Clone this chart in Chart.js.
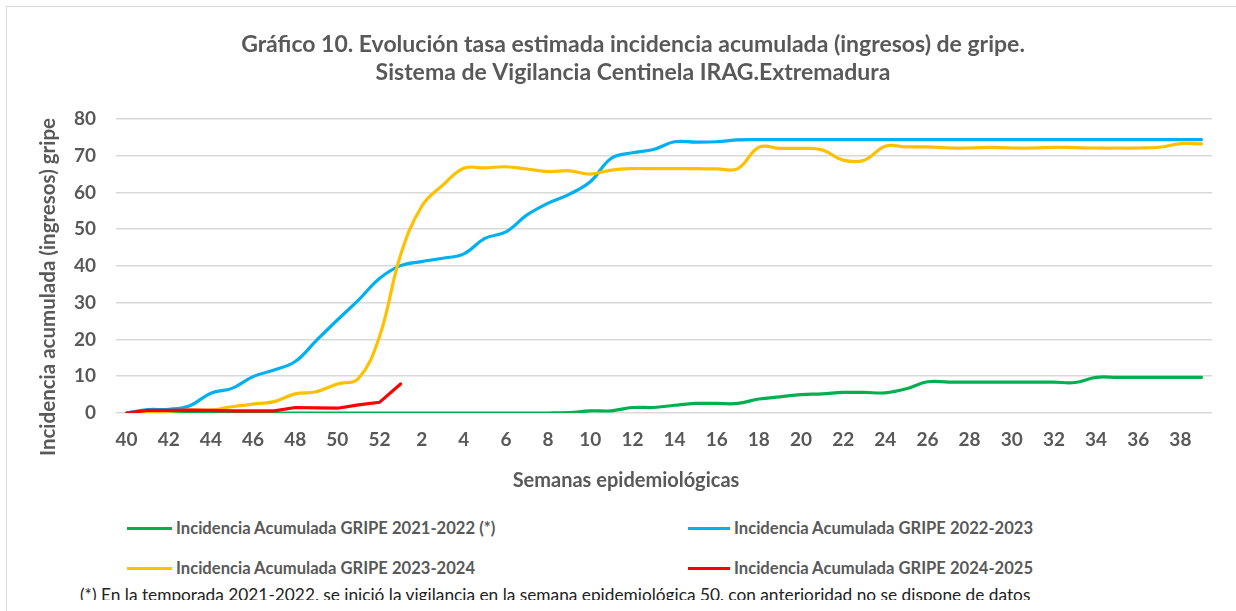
<!DOCTYPE html>
<html>
<head>
<meta charset="utf-8">
<script src="https://cdn.jsdelivr.net/npm/chart.js@4/dist/chart.umd.min.js"></script>
<style>
  html, body { margin:0; padding:0; background:#fff; }
  #wrap { position:relative; width:1236px; height:611px; overflow:hidden; font-family:Lato, sans-serif; }
  #frame { position:absolute; left:6px; top:6px; width:1240px; height:620px; border:1.5px solid #d9d9d9; box-sizing:border-box; }
  #cv { position:absolute; left:0; top:0; }
  .leg { position:absolute; display:flex; align-items:center; font-weight:bold; font-size:16.6px; color:#595959; white-space:nowrap; }
  .leg span.sw { display:inline-block; height:3px; margin-right:4px; }
  #nota { position:absolute; left:80px; top:584px; height:16px; overflow:hidden; font-size:17.3px; color:#222; white-space:nowrap; line-height:22px; }
</style>
</head>
<body>
<div id="wrap">
  <div id="frame"></div>
  <canvas id="cv" width="1236" height="500"></canvas>
  <div id="legend"></div>
  <div id="nota">(*) En la temporada 2021-2022, se inició la vigilancia en la semana epidemiológica 50, con anterioridad no se dispone de datos</div>
</div>
<script>
// semanas epidemiológicas (temporada 40 -> 39)
const semanas = ['40','41','42','43','44','45','46','47','48','49','50','51','52',
  '1','2','3','4','5','6','7','8','9','10','11','12','13','14','15','16','17','18','19','20',
  '21','22','23','24','25','26','27','28','29','30','31','32','33','34','35','36','37','38','39'];

const gripe2122 = [0,0,0,0,0,0,0,0,0,0,0,0,0,
  0,0,0,0,0,0,0,0,0.1,0.6,0.6,1.5,1.5,2.1,2.6,2.6,2.6,3.8,4.4,5.0,
  5.2,5.6,5.6,5.5,6.6,8.5,8.4,8.4,8.4,8.4,8.4,8.4,8.3,9.7,9.7,9.7,9.7,9.7,9.7];

const gripe2223 = [0,0.9,1.0,2.0,5.4,6.7,9.9,11.7,14.0,19.7,25.3,30.7,36.6,
  40.1,41.2,42.1,43.3,47.5,49.3,53.9,57.1,59.5,62.9,69.3,70.8,71.7,73.8,73.7,73.8,74.3,74.4,74.4,74.4,
  74.4,74.4,74.4,74.4,74.4,74.4,74.4,74.4,74.4,74.4,74.4,74.4,74.4,74.4,74.4,74.4,74.4,74.4,74.4];

const gripe2324 = [0,0.1,0.5,0.8,0.8,1.7,2.4,3.1,5.2,5.8,7.9,9.4,20.8,
  43.0,56.2,62.0,66.6,66.7,67.0,66.4,65.7,65.9,65.0,66.1,66.5,66.5,66.5,66.5,66.4,66.5,72.3,72.0,72.0,
  71.6,68.8,68.8,72.6,72.4,72.4,72.1,72.1,72.3,72.1,72.1,72.3,72.2,72.1,72.1,72.1,72.3,73.3,73.2];

const gripe2425 = [0,0.7,0.7,0.8,0.7,0.6,0.6,0.6,1.5,1.4,1.3,2.2,2.9,7.9];

const series = [
  { label:'Incidencia Acumulada GRIPE 2021-2022 (*)', data:gripe2122, color:'#00b050', order:4, tension:0.4 },
  { label:'Incidencia Acumulada GRIPE 2022-2023', data:gripe2223, color:'#00b0f0', order:3, tension:0.4 },
  { label:'Incidencia Acumulada GRIPE 2023-2024', data:gripe2324, color:'#ffc000', order:2, tension:0.4 },
  { label:'Incidencia Acumulada GRIPE 2024-2025', data:gripe2425, color:'#ff0000', order:1, tension:0 }
];

const GREY = '#595959';
const FONT = 'Lato, sans-serif';
const Y_TITLE = 'Incidencia acumulada (ingresos) gripe';
const X_TITLE = 'Semanas epidemiológicas';

// títulos de ejes: en el original no van centrados sobre el área de trazado
const axisTitles = {
  id: 'axisTitles',
  afterDraw(chart) {
    const ctx = chart.ctx;
    ctx.save();
    ctx.fillStyle = GREY;
    ctx.textAlign = 'center';
    ctx.textBaseline = 'middle';
    ctx.font = `bold 20px ${FONT}`;
    ctx.fillText(X_TITLE, 626, 481);
    ctx.translate(48, 287);
    ctx.rotate(-Math.PI / 2);
    ctx.font = `bold 20.5px ${FONT}`;
    ctx.fillText(Y_TITLE, 0, 0);
    ctx.restore();
  }
};

new Chart(document.getElementById('cv'), {
  type: 'line',
  data: {
    labels: semanas,
    datasets: series.map(s => ({
      label: s.label, data: s.data, borderColor: s.color, backgroundColor: s.color,
      borderWidth: 3.2, pointRadius: 0, tension: s.tension, order: s.order,
      cubicInterpolationMode: 'default', borderCapStyle: 'round'
    }))
  },
  options: {
    responsive: false, animation: false,
    layout: { padding: { left: 54, right: 24, top: 31, bottom: 33 } },
    plugins: {
      legend: { display: false },
      tooltip: { enabled: false },
      title: {
        display: true,
        text: ['Gráfico 10. Evolución tasa estimada incidencia acumulada (ingresos) de gripe.',
               'Sistema de Vigilancia Centinela IRAG.Extremadura'],
        color: GREY, font: { family: FONT, size: 23, weight: 'bold', lineHeight: 1.217 },
        padding: { top: 0, bottom: 32 }
      }
    },
    scales: {
      x: {
        offset: true,
        grid: { display: false, drawTicks: false },
        border: { display: false },
        ticks: {
          autoSkip: false, maxRotation: 0, padding: 15.6,
          color: GREY, font: { family: FONT, size: 19, weight: 'bold' },
          callback: function(v, i) { return i % 2 === 0 ? this.getLabelForValue(v) : ''; }
        }
      },
      y: {
        min: 0, max: 80,
        grid: { color: '#d9d9d9', lineWidth: 1.5, drawTicks: false },
        border: { display: false },
        ticks: { stepSize: 10, padding: 20, color: GREY, font: { family: FONT, size: 19, weight: 'bold' } }
      }
    }
  },
  plugins: [axisTitles]
});

// leyenda en dos columnas
const legPos = [
  { x:127, y:528, w:45 }, { x:688, y:528, w:42 },
  { x:127, y:568, w:45 }, { x:688, y:568, w:42 }
];
const legEl = document.getElementById('legend');
series.forEach((s, i) => {
  const p = legPos[i];
  const d = document.createElement('div');
  d.className = 'leg';
  d.style.left = p.x + 'px';
  d.style.top = (p.y - 11) + 'px';
  d.style.height = '22px';
  d.innerHTML = `<span class="sw" style="width:${p.w}px;background:${s.color}"></span>${s.label}`;
  legEl.appendChild(d);
});
</script>
</body>
</html>
